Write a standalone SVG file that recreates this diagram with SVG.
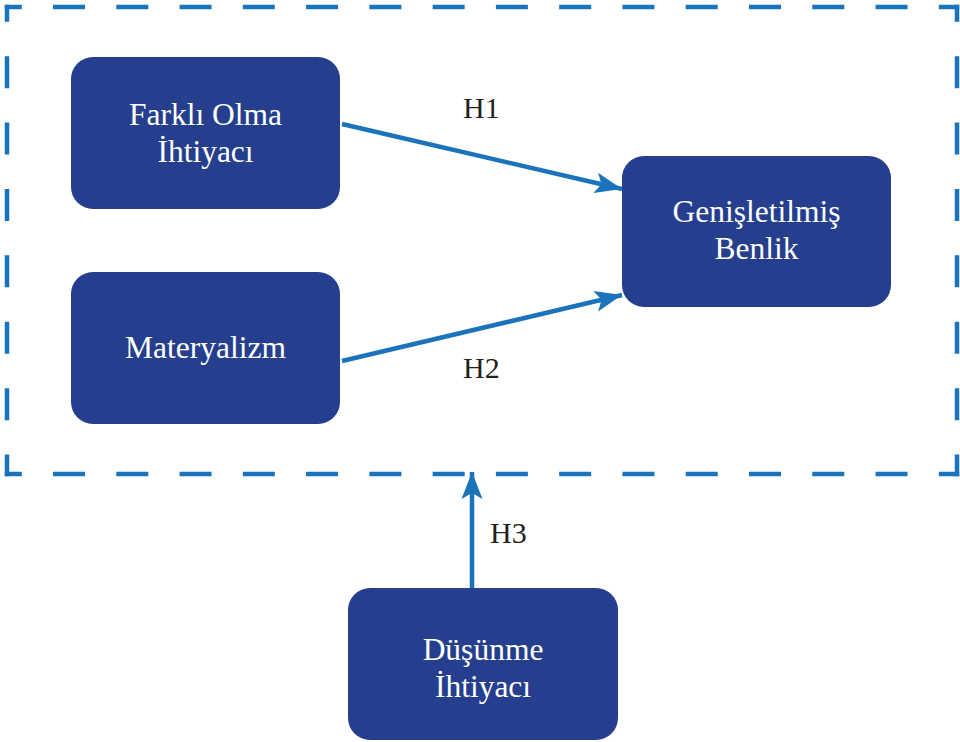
<svg xmlns="http://www.w3.org/2000/svg" width="960" height="742" viewBox="0 0 960 742">
<defs>
<style>
.node rect{fill:#253f8e;}
.node text{fill:#ffffff;font-size:31.5px;text-anchor:middle;}
.lbl{fill:#231f20;font-size:30px;}
.conn{stroke:#1a73bb;stroke-width:4.5;fill:none;marker-end:url(#ah);}
.dashh{stroke:#1a73bb;stroke-width:4.5;fill:none;stroke-dasharray:32 31.27;stroke-dashoffset:15;}
.dashv{stroke:#1a73bb;stroke-width:4.5;fill:none;stroke-dasharray:32 34.4;stroke-dashoffset:15;}
</style>
<marker id="ah" markerUnits="userSpaceOnUse" markerWidth="30" markerHeight="24" viewBox="-28 -12 30 24" refX="0" refY="0" orient="auto">
<path d="M0,0 L-27,-10.5 L-21,0 L-27,10.5 Z" fill="#1a73bb"/>
</marker>
</defs>
<g id="frame">
<line class="dashh" x1="4.75" y1="7" x2="959.25" y2="7"/>
<line class="dashh" x1="4.75" y1="474" x2="959.25" y2="474"/>
<line class="dashv" x1="7" y1="4.75" x2="7" y2="476.25"/>
<line class="dashv" x1="957" y1="4.75" x2="957" y2="476.25"/>
</g>
<g id="connectors">
<line class="conn" x1="342" y1="124" x2="622" y2="189"/>
<line class="conn" x1="342" y1="361" x2="622" y2="295"/>
<line class="conn" x1="472" y1="589" x2="472" y2="472"/>
</g>
<g id="labels" font-family="'Liberation Serif', 'DejaVu Serif', serif">
<text class="lbl" x="463" y="118">H1</text>
<text class="lbl" x="463" y="378">H2</text>
<text class="lbl" x="490" y="543">H3</text>
</g>
<g id="node-farkli" class="node" font-family="'Liberation Serif', 'DejaVu Serif', serif">
<rect x="71" y="57" width="269" height="152" rx="22"/>
<text x="205.5" y="125">Farklı Olma</text>
<text x="205.5" y="162">İhtiyacı</text>
</g>
<g id="node-materyalizm" class="node" font-family="'Liberation Serif', 'DejaVu Serif', serif">
<rect x="71" y="272" width="269" height="152" rx="22"/>
<text x="205.5" y="358">Materyalizm</text>
</g>
<g id="node-genisletilmis" class="node" font-family="'Liberation Serif', 'DejaVu Serif', serif">
<rect x="622" y="156" width="269" height="151" rx="22"/>
<text x="756.5" y="222">Genişletilmiş</text>
<text x="756.5" y="259">Benlik</text>
</g>
<g id="node-dusunme" class="node" font-family="'Liberation Serif', 'DejaVu Serif', serif">
<rect x="348" y="588" width="270" height="152" rx="22"/>
<text x="483" y="660">Düşünme</text>
<text x="483" y="697">İhtiyacı</text>
</g>
</svg>
